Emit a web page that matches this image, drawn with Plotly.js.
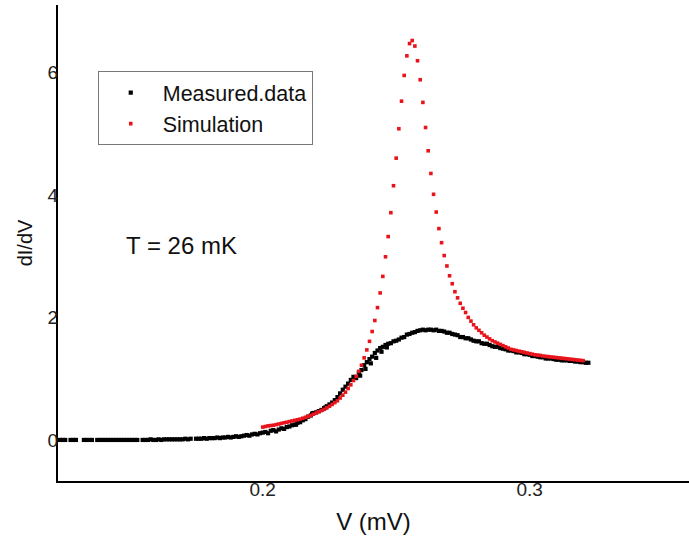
<!DOCTYPE html>
<html>
<head>
<meta charset="utf-8">
<script src="https://cdn.plot.ly/plotly-3.0.1.min.js"></script>
<style>html,body{margin:0;padding:0;background:#fff;}#chart{width:689px;height:543px;}</style>
</head>
<body>
<div id="chart"></div>
<script>
// Measured data: bias voltage V (mV) and dI/dV
const measV = [
0.124,0.125,0.126,0.128,0.129,0.130,0.133,0.134,0.135,0.136,0.138,0.139,0.140,0.141,0.142,0.143,0.144,0.145,0.146,0.147,
0.148,0.149,0.150,0.151,0.152,0.153,0.155,0.156,0.157,0.158,0.159,0.160,0.161,0.162,0.163,0.164,0.165,0.166,0.167,0.168,
0.169,0.170,0.171,0.172,0.173,0.175,0.176,0.177,0.178,0.179,0.180,0.181,0.182,0.183,0.184,0.185,0.186,0.187,0.188,0.189,
0.190,0.191,0.192,0.193,0.194,0.195,0.196,0.197,0.198,0.199,0.200,0.201,0.202,0.203,0.204,0.205,0.206,0.207,0.208,0.209,
0.210,0.211,0.212,0.213,0.214,0.215,0.216,0.217,0.218,0.219,0.220,0.221,0.222,0.223,0.224,0.225,0.226,0.227,0.228,0.229,
0.230,0.231,0.232,0.233,0.234,0.235,0.236,0.237,0.238,0.239,0.240,0.241,0.242,0.243,0.244,0.245,0.246,0.247,0.248,0.249,
0.250,0.251,0.252,0.253,0.254,0.255,0.256,0.257,0.258,0.259,0.260,0.261,0.262,0.263,0.264,0.265,0.266,0.267,0.268,0.269,
0.270,0.271,0.272,0.273,0.274,0.275,0.276,0.277,0.278,0.279,0.280,0.281,0.282,0.283,0.284,0.285,0.286,0.287,0.288,0.289,
0.290,0.291,0.292,0.293,0.294,0.295,0.296,0.297,0.298,0.299,0.300,0.301,0.302,0.303,0.304,0.305,0.306,0.307,0.308,0.309,
0.310,0.311,0.312,0.313,0.314,0.315,0.316,0.317,0.318,0.319,0.320,0.321,0.322,
0.2125,0.2185,0.2235,0.2365,0.2385,0.2405,0.2425,0.2445,0.2465
];
const measG = [
0.00,0.00,0.00,0.00,0.00,0.00,0.00,0.00,0.00,0.00,0.00,0.00,0.00,0.00,0.00,0.00,0.00,0.00,0.00,0.00,
0.00,0.00,0.00,0.00,0.00,0.00,0.00,0.00,0.00,0.01,0.00,0.00,0.01,0.00,0.01,0.01,0.01,0.01,0.01,0.01,
0.01,0.01,0.02,0.01,0.02,0.02,0.02,0.02,0.03,0.02,0.03,0.03,0.03,0.04,0.03,0.04,0.04,0.05,0.04,0.05,
0.06,0.05,0.06,0.07,0.08,0.07,0.09,0.10,0.09,0.11,0.12,0.13,0.11,0.15,0.16,0.14,0.17,0.19,0.18,0.21,
0.22,0.24,0.25,0.28,0.29,0.32,0.34,0.38,0.40,0.44,0.45,0.47,0.49,0.52,0.55,0.58,0.61,0.65,0.70,0.76,
0.82,0.87,0.92,0.98,1.03,1.01,1.10,1.14,1.22,1.27,1.32,1.36,1.42,1.46,1.50,1.52,1.55,1.57,1.58,1.61,
1.62,1.64,1.67,1.68,1.72,1.73,1.75,1.76,1.78,1.79,1.80,1.79,1.80,1.80,1.79,1.80,1.78,1.78,1.77,1.75,
1.75,1.73,1.72,1.71,1.68,1.68,1.66,1.66,1.64,1.62,1.61,1.61,1.58,1.57,1.57,1.55,1.53,1.52,1.52,1.50,
1.49,1.48,1.46,1.46,1.45,1.43,1.43,1.42,1.40,1.40,1.39,1.37,1.37,1.36,1.35,1.35,1.33,1.33,1.33,1.32,
1.31,1.31,1.30,1.30,1.30,1.29,1.29,1.28,1.28,1.27,1.27,1.26,1.26,
0.25,0.43,0.53,1.05,1.16,1.25,1.34,1.44,1.51
];

// Simulation: bias voltage V (mV) and dI/dV
const simV = [
0.200,0.201,0.202,0.203,0.204,0.205,0.206,0.207,0.208,0.209,0.210,0.211,0.212,0.213,0.214,0.215,0.216,0.217,0.218,0.219,
0.220,0.221,0.222,0.223,0.224,0.225,0.226,0.227,0.228,0.229,0.230,0.231,0.232,0.233,0.234,0.235,0.236,0.237,0.238,0.239,
0.240,0.241,0.242,0.243,0.244,0.245,0.246,0.247,0.248,0.249,0.250,0.251,0.252,0.253,0.254,0.255,0.256,0.257,0.258,0.259,
0.260,0.261,0.262,0.263,0.264,0.265,0.266,0.267,0.268,0.269,0.270,0.271,0.272,0.273,0.274,0.275,0.276,0.277,0.278,0.279,
0.280,0.281,0.282,0.283,0.284,0.285,0.286,0.287,0.288,0.289,0.290,0.291,0.292,0.293,0.294,0.295,0.296,0.297,0.298,0.299,
0.300,0.301,0.302,0.303,0.304,0.305,0.306,0.307,0.308,0.309,0.310,0.311,0.312,0.313,0.314,0.315,0.316,0.317,0.318,0.319,
0.320
];
const simG = [
0.21,0.22,0.23,0.235,0.24,0.25,0.26,0.27,0.28,0.29,0.30,0.31,0.32,0.33,0.34,0.355,0.37,0.385,0.40,0.42,
0.44,0.46,0.48,0.50,0.525,0.55,0.58,0.61,0.64,0.685,0.73,0.78,0.84,0.90,0.97,1.04,1.12,1.22,1.34,1.47,
1.61,1.77,1.95,2.16,2.40,2.67,2.99,3.32,3.71,4.15,4.60,5.08,5.53,5.95,6.27,6.47,6.52,6.43,6.19,5.88,
5.51,5.10,4.72,4.35,4.01,3.72,3.45,3.22,3.01,2.84,2.68,2.55,2.42,2.32,2.23,2.15,2.08,2.00,1.94,1.88,
1.83,1.79,1.75,1.71,1.68,1.65,1.62,1.60,1.58,1.56,1.54,1.52,1.50,1.48,1.47,1.46,1.45,1.44,1.43,1.42,
1.41,1.40,1.39,1.385,1.38,1.37,1.365,1.36,1.355,1.35,1.345,1.34,1.335,1.33,1.325,1.32,1.315,1.31,1.305,1.30,
1.295
];

const xTickVals = [0.2, 0.3];
const xTickText = ['0.2', '0.3'];
const yTickVals = [0, 2, 4, 6];
const yTickText = ['0', '2', '4', '6'];

const FONT = 'Liberation Sans, Arial, Helvetica, sans-serif';

const traces = [
  {
    x: measV, y: measG, type: 'scatter', mode: 'markers', name: 'Measured.data',
    marker: {symbol: 'square', size: 4.2, color: '#000000', line: {width: 0}}
  },
  {
    x: simV, y: simG, type: 'scatter', mode: 'markers', name: 'Simulation',
    marker: {symbol: 'square', size: 3.6, color: '#e8141c', line: {width: 0}}
  }
];

const layout = {
  width: 689, height: 543,
  margin: {l: 58, r: 0, t: 5, b: 62, pad: 0},
  paper_bgcolor: '#ffffff', plot_bgcolor: '#ffffff',
  font: {family: FONT, color: '#111111'},
  showlegend: true,
  xaxis: {
    range: [0.1233, 0.3597], showgrid: false, zeroline: false,
    showline: true, linecolor: '#000000', linewidth: 2, mirror: false,
    ticks: '', tickmode: 'array', tickvals: xTickVals, ticktext: xTickText,
    ticklabelstandoff: -10,
    tickfont: {size: 19, family: FONT, color: '#222222'},
    title: {text: 'V (mV)', font: {size: 24, family: FONT, color: '#111111'}, standoff: 14}
  },
  yaxis: {
    range: [-0.67, 7.1], showgrid: false, zeroline: false,
    showline: true, linecolor: '#000000', linewidth: 2, mirror: false,
    ticks: '', tickmode: 'array', tickvals: yTickVals, ticktext: yTickText,
    ticklabelstandoff: -6,
    tickfont: {size: 19, family: FONT, color: '#222222'},
    title: {text: 'dI/dV', font: {size: 20, family: FONT, color: '#111111'}, standoff: 10}
  },
  legend: {
    x: 0.063, y: 0.861, xanchor: 'left', yanchor: 'top',
    bordercolor: '#777777', borderwidth: 1, bgcolor: '#ffffff',
    font: {size: 21.5, family: FONT, color: '#111111'},
    itemwidth: 54, tracegroupgap: 0
  },
  annotations: [{
    text: 'T = 26 mK', xref: 'paper', yref: 'paper', x: 0.105, y: 0.494,
    xanchor: 'left', yanchor: 'middle', showarrow: false,
    font: {size: 24, family: FONT, color: '#111111'}
  }]
};

Plotly.newPlot('chart', traces, layout, {displayModeBar: false, staticPlot: true});
</script>
</body>
</html>
